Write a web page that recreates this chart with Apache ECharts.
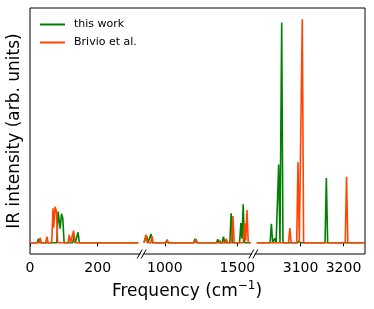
<!DOCTYPE html>
<html>
<head>
<meta charset="utf-8">
<script src="https://cdn.jsdelivr.net/npm/echarts@6/dist/echarts.min.js"></script>
<style>
html,body{margin:0;padding:0;background:#fff;}
#chart{width:374px;height:309px;}
</style>
</head>
<body>
<div id="chart"></div>
<script>
// ---- data ----
const seriesNames = ['this work', 'Brivio et al.'];
const workFreq = [25, 83, 87, 93, 97, 130, 142, 875, 904, 1015, 1208, 1365, 1404, 1457, 1524, 1540, 3032, 3040, 3049, 3056, 3096, 3160];
const workInt  = [0.018, 0.14, 0.145, 0.13, 0.115, 0.03, 0.047, 0.03, 0.04, 0.013, 0.018, 0.016, 0.027, 0.132, 0.088, 0.172, 0.085, 0.02, 0.35, 0.985, 0.01, 0.29];
const brivioFreq = [30, 50, 68, 74, 78, 116, 129, 870, 911, 1015, 1215, 1381, 1423, 1469, 1549, 1566, 3075, 3094, 3104, 3207];
const brivioInt  = [0.022, 0.027, 0.154, 0.161, 0.148, 0.036, 0.054, 0.036, 0.03, 0.012, 0.016, 0.01, 0.018, 0.12, 0.088, 0.147, 0.066, 0.36, 1.0, 0.295];
const panelMin = [0, 840, 2990];
const panelMax = [330, 1610, 3250];
const dataStart = [0, 856, 2998];
const dataEnd = [320, 1592, 3250];
const panelTicks = [[0, 200], [1000, 1500], [3100, 3200]];

// ---- layout ----
const frameLeft = 30, frameTop = 8, frameW = 335, frameH = 246;
const panelW = frameW / 3;
const colors = ['#008000', '#ff4500'];
const halfWidthPx = 1.3;

function buildLine(freqs, ints, p) {
  const scale = panelW / (panelMax[p] - panelMin[p]);
  const d = halfWidthPx / scale;
  const peaks = [];
  for (let i = 0; i < freqs.length; i++) {
    if (freqs[i] >= dataStart[p] && freqs[i] <= dataEnd[p]) peaks.push([freqs[i], ints[i]]);
  }
  const xs = [dataStart[p], dataEnd[p]];
  peaks.forEach(pk => { xs.push(pk[0] - d, pk[0], pk[0] + d); });
  xs.sort((a, b) => a - b);
  const out = [];
  xs.forEach(x => {
    if (x < dataStart[p] || x > dataEnd[p]) return;
    let y = 0;
    peaks.forEach(pk => {
      const t = 1 - Math.abs(x - pk[0]) / d;
      if (t > 0) y += pk[1] * t;
    });
    out.push([x, y]);
  });
  return out;
}

const grids = [], xAxes = [], yAxes = [], series = [];
for (let p = 0; p < 3; p++) {
  grids.push({left: frameLeft + p * panelW, top: frameTop, width: panelW, height: frameH});
  xAxes.push({
    type: 'value', gridIndex: p, min: panelMin[p], max: panelMax[p],
    axisLine: {show: false}, splitLine: {show: false},
    axisTick: {show: true, customValues: panelTicks[p], length: 3.5, lineStyle: {color: '#000', width: 1}},
    axisLabel: {show: false}
  });
  yAxes.push({type: 'value', gridIndex: p, min: -0.05, max: 1.05, show: false});
  [[workFreq, workInt], [brivioFreq, brivioInt]].forEach((s, k) => {
    series.push({
      type: 'line', name: seriesNames[k], xAxisIndex: p, yAxisIndex: p,
      data: buildLine(s[0], s[1], p), symbol: 'none', showSymbol: false,
      lineStyle: {color: colors[k], width: 1.6}, itemStyle: {color: colors[k]},
      clip: true, z: 2 + k, animation: false
    });
  });
}
// frame
grids.push({left: frameLeft, top: frameTop, width: frameW, height: frameH, show: true, borderColor: '#000', borderWidth: 1, backgroundColor: 'transparent'});
xAxes.push({type: 'value', gridIndex: 3, show: false});
yAxes.push({type: 'value', gridIndex: 3, show: false});

const chart = echarts.init(document.getElementById('chart'), null, {renderer: 'canvas'});
chart.setOption({
  animation: false,
  backgroundColor: '#fff',
  grid: grids, xAxis: xAxes, yAxis: yAxes, series: series,
  legend: {
    data: seriesNames.map((n, k) => ({name: n, icon: 'rect', itemStyle: {color: colors[k]}})),
    orient: 'vertical', left: 35, top: 13,
    itemWidth: 25, itemHeight: 2, itemGap: 5,
    textStyle: {fontSize: 11, lineHeight: 13, color: '#000', fontFamily: 'DejaVu Sans', padding: [0, 0, 0, 4]}
  }
});

// tick labels, positioned through each panel's x axis scale
const graphics = [];
const frameBottom = frameTop + frameH;
for (let p = 0; p < 3; p++) {
  panelTicks[p].forEach(v => {
    const px = chart.convertToPixel({xAxisIndex: p}, v);
    graphics.push({type: 'text', x: px, y: frameBottom + 7.5, z: 100, silent: true,
      style: {text: String(v), fontSize: 14, fontFamily: 'DejaVu Sans', fill: '#000', align: 'center', verticalAlign: 'top'}});
  });
}
// axis break marks
for (let b = 1; b < 3; b++) {
  const bx = frameLeft + b * panelW;
  [-2, 2].forEach(o => {
    graphics.push({type: 'line', z: 100, silent: true, shape: {x1: bx + o - 2.5, y1: frameBottom + 4.5, x2: bx + o + 2.5, y2: frameBottom - 4.5}, style: {stroke: '#000', lineWidth: 1}});
  });
  graphics.push({type: 'rect', z: 99, silent: true, shape: {x: bx - 1.2, y: frameBottom - 1, width: 2.4, height: 2}, style: {fill: '#fff'}});
}
graphics.push(
  {type: 'text', left: 'center', x: 0, top: 280, z: 100, silent: true,
   style: {text: '{a|Frequency (cm}{s|−1}{a|)}', rich: {
     a: {fontSize: 17, fontFamily: 'DejaVu Sans', fill: '#000', verticalAlign: 'bottom'},
     s: {fontSize: 12, fontFamily: 'DejaVu Sans', fill: '#000', verticalAlign: 'bottom', padding: [0, 0, 8, 0]}
   }}},
  {type: 'text', x: 6, y: 131, rotation: Math.PI / 2, z: 100, silent: true,
   style: {text: 'IR intensity (arb. units)', fontSize: 17, fontFamily: 'DejaVu Sans', fill: '#000', align: 'center', verticalAlign: 'top'}}
);
chart.setOption({graphic: graphics});
</script>
</body>
</html>
